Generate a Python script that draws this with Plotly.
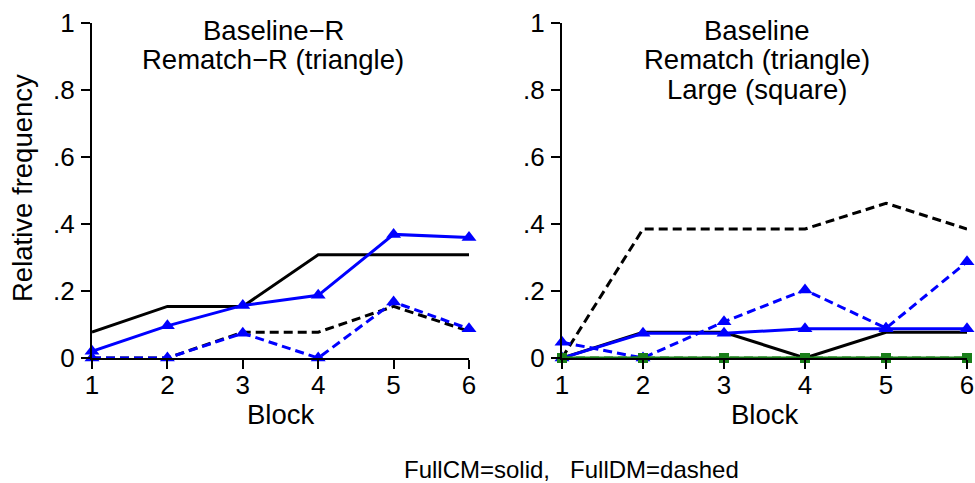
import plotly.graph_objects as go

blocks = [1, 2, 3, 4, 5, 6]

# Left panel: Baseline-R (no marker), Rematch-R (triangle)
left_base_cm = [0.077, 0.154, 0.154, 0.308, 0.308, 0.308]
left_base_dm = [0.0, 0.0, 0.077, 0.077, 0.154, 0.080]
left_rem_cm = [0.02, 0.096, 0.157, 0.187, 0.369, 0.360]
left_rem_dm = [0.0, 0.0, 0.074, 0.0, 0.167, 0.087]

# Right panel: Baseline (no marker), Rematch (triangle), Large (square)
right_base_cm = [0.0, 0.077, 0.077, 0.0, 0.077, 0.077]
right_base_dm = [0.0, 0.385, 0.385, 0.385, 0.462, 0.385]
right_rem_cm = [0.0, 0.074, 0.074, 0.087, 0.087, 0.087]
right_rem_dm = [0.047, 0.0, 0.108, 0.203, 0.089, 0.287]
right_large_cm = [0.0, 0.0, 0.0, 0.0, 0.0, 0.0]
right_large_dm = [0.0, 0.0, 0.0, 0.0, 0.0, 0.0]

ytick_vals = [0, 0.2, 0.4, 0.6, 0.8, 1]
ytick_text = ["0", ".2", ".4", ".6", ".8", "1"]

left_title = ["Baseline\u2212R", "Rematch\u2212R (triangle)"]
right_title = ["Baseline", "Rematch (triangle)", "Large (square)"]
x_title = "Block"
y_title = "Relative frequency"
note = "FullCM=solid,\u00a0\u00a0\u00a0FullDM=dashed"

FONT = "Liberation Sans, Arial, sans-serif"
BLACK = "#000000"
BLUE = "#0000ff"
GREEN = "#1a7f1a"
DASH = "9px,5px"
LW = 3

fig = go.Figure()


def add(y, color, dash, marker, xa, ya):
    mode = "lines+markers" if marker else "lines"
    fig.add_trace(go.Scatter(
        x=blocks, y=y, mode=mode, xaxis=xa, yaxis=ya,
        line=dict(color=color, width=LW, dash=dash),
        marker=dict(symbol=marker or "circle", size=13 if marker == "triangle-up" else 10,
                    color=color, line=dict(width=0)),
        cliponaxis=False, showlegend=False,
    ))


# Left
add(left_base_cm, BLACK, "solid", None, "x", "y")
add(left_base_dm, BLACK, DASH, None, "x", "y")
add(left_rem_cm, BLUE, "solid", "triangle-up", "x", "y")
add(left_rem_dm, BLUE, DASH, "triangle-up", "x", "y")
# Right
add(right_base_dm, BLACK, DASH, None, "x2", "y2")
add(right_base_cm, BLACK, "solid", None, "x2", "y2")
add(right_rem_dm, BLUE, DASH, "triangle-up", "x2", "y2")
add(right_rem_cm, BLUE, "solid", "triangle-up", "x2", "y2")
add(right_large_dm, GREEN, DASH, "square", "x2", "y2")
add(right_large_cm, GREEN, "solid", "square", "x2", "y2")

W, H = 975, 483
xdom1 = [92 / W, 469 / W]
xdom2 = [562 / W, 967 / W]
ydom = [1 - 358 / H, 1 - 23 / H]

axis_common = dict(showgrid=False, zeroline=False, showline=True, linecolor=BLACK,
                   linewidth=2, ticks="outside", ticklen=9, tickwidth=2,
                   tickcolor=BLACK, tickfont=dict(family=FONT, size=26, color=BLACK),
                   automargin=False)

xax = dict(axis_common, range=[1, 6], tickvals=blocks, ticktext=[str(b) for b in blocks],
           ticklabelstandoff=-6)
yax = dict(axis_common, range=[0, 1], tickvals=ytick_vals, ticktext=ytick_text,
           ticklabelstandoff=1)


def px_x(p):
    return p / W


def px_y(p):
    return 1 - p / H


ann = []
tfont = dict(family=FONT, size=27.5, color=BLACK)
for i, t in enumerate(left_title):
    ann.append(dict(text=t, x=px_x(273), y=px_y(30 + 29.7 * i)))
for i, t in enumerate(right_title):
    ann.append(dict(text=t, x=px_x(757), y=px_y(30 + 29.7 * i)))
ann.append(dict(text=x_title, x=px_x(280), y=px_y(414.5)))
ann.append(dict(text=x_title, x=px_x(764.5), y=px_y(414.5)))
ann.append(dict(text=y_title, x=px_x(22.5), y=px_y(188.5), textangle=-90))
for a in ann:
    a.update(xref="paper", yref="paper", xanchor="center", yanchor="middle",
             showarrow=False, font=tfont)
ann.append(dict(text=note, xref="paper", yref="paper", x=px_x(571.5), y=px_y(469),
                xanchor="center", yanchor="middle", showarrow=False,
                font=dict(family=FONT, size=24, color=BLACK)))

fig.update_layout(
    template="none",
    width=W, height=H,
    margin=dict(l=0, r=0, t=0, b=0, pad=0, autoexpand=False),
    paper_bgcolor="white", plot_bgcolor="white",
    font=dict(family=FONT, color=BLACK),
    xaxis=dict(xax, domain=xdom1, anchor="y"),
    yaxis=dict(yax, domain=ydom, anchor="x"),
    xaxis2=dict(xax, domain=xdom2, anchor="y2"),
    yaxis2=dict(yax, domain=ydom, anchor="x2"),
    annotations=ann,
)

fig.write_html("out.html")
